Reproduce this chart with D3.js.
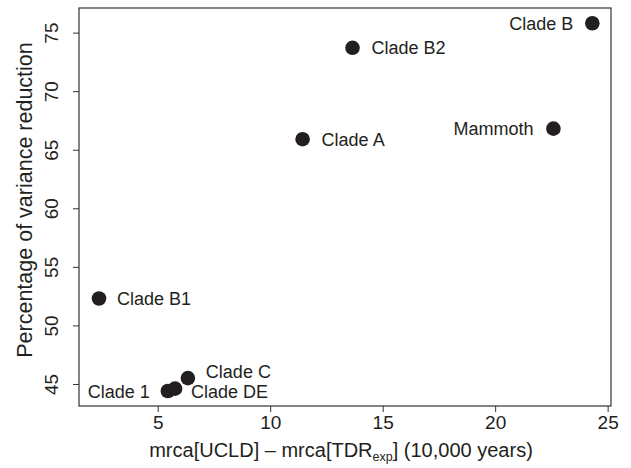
<!DOCTYPE html>
<html>
<head>
<meta charset="utf-8">
<script src="https://cdn.jsdelivr.net/npm/d3@7"></script>
<style>
  body { margin: 0; background: #fff; }
  text { font-family: "Liberation Sans", Arial, sans-serif; fill: #231f20; }
</style>
</head>
<body>
<script>
var width = 631;
var height = 468;
var margin = {top: 8, right: 20, bottom: 62, left: 79};

// values
var clades = ["Clade B1", "Clade B2", "Clade A", "Clade B", "Mammoth", "Clade C", "Clade DE", "Clade 1"];
var mrcaDiff = [2.39, 13.66, 11.44, 24.32, 22.59, 6.34, 5.77, 5.45];
var varianceReduction = [52.3, 73.7, 65.9, 75.8, 66.8, 45.5, 44.6, 44.4];
var xTicks = [5, 10, 15, 20, 25];
var yTicks = [45, 50, 55, 60, 65, 70, 75];

var points = clades.map((name, i) => ({name: name, x: mrcaDiff[i], y: varianceReduction[i]}));

// label placement next to each dot (dx, dy in px, anchor)
var labelPos = {
  "Clade B1": [18, 6.5, "start"],
  "Clade B2": [19, 6.5, "start"],
  "Clade A":  [19, 6.5, "start"],
  "Clade B":  [-19, 6.5, "end"],
  "Mammoth":  [-20, 6.5, "end"],
  "Clade C":  [18, -0.5, "start"],
  "Clade DE": [16, 9.5, "start"],
  "Clade 1":  [-18, 6.5, "end"]
};

var svg = d3.select("body")
            .append("svg")
            .attr("width", width)
            .attr("height", height);

var x = d3.scaleLinear()
          .domain([1.5, 25.15])
          .range([margin.left, width - margin.right]);

var y = d3.scaleLinear()
          .domain([43.12, 77.1])
          .range([height - margin.bottom, margin.top]);

var xAxis = svg.append("g")
               .attr("transform", "translate(0," + (height - margin.bottom) + ")")
               .call(d3.axisBottom(x).tickValues(xTicks).tickSize(6).tickPadding(4).tickSizeOuter(0));

var yAxis = svg.append("g")
               .attr("transform", "translate(" + margin.left + ",0)")
               .call(d3.axisLeft(y).tickValues(yTicks).tickSize(6).tickPadding(5).tickSizeOuter(0));

[xAxis, yAxis].forEach(g => {
  g.select(".domain").remove();
  g.selectAll("line").attr("stroke", "#333").attr("stroke-width", 1);
  g.selectAll("text").attr("font-size", "19px").attr("fill", "#231f20")
   .attr("font-family", "'Liberation Sans', Arial, sans-serif");
});

// y tick labels are rotated in the original
yAxis.selectAll(".tick text")
     .attr("x", null).attr("dy", null)
     .attr("text-anchor", "middle")
     .attr("transform", "translate(-21,0) rotate(-90)");

// frame
svg.append("rect")
   .attr("x", margin.left)
   .attr("y", margin.top)
   .attr("width", width - margin.left - margin.right)
   .attr("height", height - margin.top - margin.bottom)
   .attr("fill", "none")
   .attr("stroke", "#333")
   .attr("stroke-width", 1.2);

svg.selectAll("circle")
   .data(points)
   .enter()
   .append("circle")
   .attr("cx", d => x(d.x))
   .attr("cy", d => y(d.y))
   .attr("r", 7.3)
   .attr("fill", "#231f20");

svg.selectAll("text.label")
   .data(points)
   .enter()
   .append("text")
   .attr("class", "label")
   .attr("x", d => x(d.x) + labelPos[d.name][0])
   .attr("y", d => y(d.y) + labelPos[d.name][1])
   .attr("text-anchor", d => labelPos[d.name][2])
   .attr("font-size", "18px")
   .text(d => d.name);

// axis titles
var xTitle = svg.append("text")
                .attr("x", 341)
                .attr("y", 457)
                .attr("text-anchor", "middle")
                .attr("font-size", "20px");
xTitle.append("tspan").text("mrca[UCLD] \u2013 mrca[TDR");
xTitle.append("tspan").attr("font-size", "12.5px").attr("dy", 4).text("exp");
xTitle.append("tspan").attr("dy", -4).text("] (10,000 years)");

svg.append("text")
   .attr("transform", "translate(32,200) rotate(-90)")
   .attr("text-anchor", "middle")
   .attr("font-size", "21.5px")
   .text("Percentage of variance reduction");
</script>
</body>
</html>
